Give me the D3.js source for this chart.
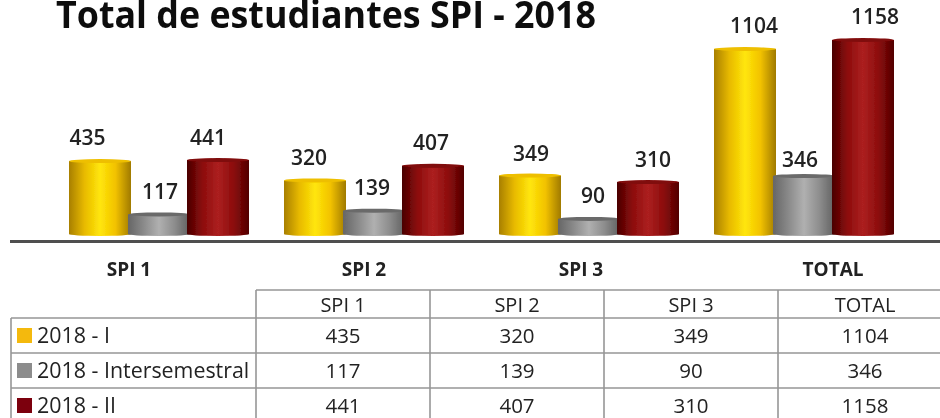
<!DOCTYPE html>
<html><head><meta charset="utf-8">
<script src="https://cdn.jsdelivr.net/npm/d3@7"></script>
<style>
html,body{margin:0;padding:0;background:#fff}
svg{display:block}
text{font-family:"Open Sans","Noto Sans",sans-serif;fill:#222}
</style></head><body><svg id="c" width="940" height="418"></svg>
<script>
const titleText = "Total de estudiantes SPI - 2018";
const categories = ["SPI 1","SPI 2","SPI 3","TOTAL"];
const seriesNames = ["2018 - I","2018 - Intersemestral","2018 - II"];
const periodI = [435,320,349,1104];
const periodInter = [117,139,90,346];
const periodII = [441,407,310,1158];
const seriesValues = [periodI,periodInter,periodII];

const svg = d3.select("#c");
const defs = svg.append("defs");
const palettes = [
  {id:"gY",stops:["#a87f00","#e8ba00","#ffe60a","#f2c200","#a07a00"],swatch:"#f4b90c",top:"#eebf00"},
  {id:"gG",stops:["#666","#8a8a8a","#b0b0b0","#8d8d8d","#5f5f5f"],swatch:"#8c8c8c",top:"#6a6a6a"},
  {id:"gR",stops:["#4a0000","#8c0c0c","#ac2020","#8c0c0c","#520000"],swatch:"#7c0608",top:"#800808"}
];
palettes.forEach(p=>{
  const g = defs.append("linearGradient").attr("id",p.id);
  p.stops.forEach((c,i)=>g.append("stop").attr("offset",i/(p.stops.length-1)).attr("stop-color",c));
});
defs.append("filter").attr("id","soft").append("feGaussianBlur").attr("stdDeviation",0.5);

const x0 = d3.scaleBand().domain(categories).range([51.5,911.5]);
const x1 = d3.scaleBand().domain(d3.range(3)).range([-88.5,88.5]);
const y = d3.scaleLinear().domain([0,1158]).range([234,40]);
const barW = 62, ry = 2;

const root = svg.append("g").attr("filter","url(#soft)");

root.append("text").attr("x",56).attr("y",28).attr("font-size",38).attr("font-weight",700)
  .attr("textLength",540).attr("lengthAdjust","spacingAndGlyphs")
  .style("fill","#111").text(titleText);

const cyl = root.append("g");
const cx=(i,s)=>x0(categories[i])+x0.bandwidth()/2+x1(s)+x1.bandwidth()/2;
seriesValues.forEach((vals,s)=>{
  const p = palettes[s];
  const g = cyl.append("g");
  g.selectAll("path").data(vals).join("path")
    .attr("fill",`url(#${p.id})`)
    .attr("d",(v,i)=>{
      const l = cx(i,s)-barW/2, t=y(v), b=y(0);
      return `M${l},${t}L${l},${b}A${barW/2},${ry} 0 0 0 ${l+barW},${b}L${l+barW},${t}Z`;
    });
  g.selectAll("ellipse").data(vals).join("ellipse")
    .attr("cx",(v,i)=>cx(i,s))
    .attr("cy",v=>y(v)).attr("rx",barW/2).attr("ry",ry).attr("fill",p.top);
});

// value labels: manual label nudges as in the source picture
const nudgeX = [[-12.5,-6,1,9],[1,-2,4,-4],[-10,-2,5,12]];
const nudgeY = [[-16,-15,-15,-16],[-15,-16,-16,-9],[-15,-16,-15,-16]];
seriesValues.forEach((vals,s)=>{
  root.append("g").selectAll("text").data(vals).join("text")
    .attr("text-anchor","middle").attr("font-size",21).attr("font-weight",600)
    .attr("x",(v,i)=>cx(i,s)+nudgeX[s][i])
    .attr("y",(v,i)=>y(v)+nudgeY[s][i]).text(v=>v);
});

// baseline
root.append("line").attr("x1",10).attr("x2",940).attr("y1",241.5).attr("y2",241.5)
  .attr("stroke","#4f4f4f").attr("stroke-width",3);

// category labels
const catShift = [-30,-10,-8,29];
root.append("g").selectAll("text").data(categories).join("text")
  .attr("text-anchor","middle").attr("font-size",19).attr("font-weight",700)
  .attr("x",(d,i)=>x0(d)+x0.bandwidth()/2+catShift[i]).attr("y",276).text(d=>d);

// data table
const colX = d3.scaleBand().domain(categories).range([256,952]);
const rowY = d3.scaleBand().domain(seriesNames).range([318,423]);
const T = root.append("g");
const gridColor = "#969696";
const hLine=(a,b,yy)=>T.append("line").attr("x1",a).attr("x2",b).attr("y1",yy).attr("y2",yy).attr("stroke",gridColor).attr("stroke-width",1.6);
const vLine=(xx,a,b)=>T.append("line").attr("x1",xx).attr("x2",xx).attr("y1",a).attr("y2",b).attr("stroke",gridColor).attr("stroke-width",1.6);
hLine(256,940,290);
hLine(11,940,rowY.range()[0]);
seriesNames.forEach(n=>hLine(11,940,rowY(n)+rowY.bandwidth()));
vLine(11,318,418);
categories.forEach(c=>vLine(colX(c),290,418));

const colCenter=(c)=>colX(c)+colX.bandwidth()/2;
T.append("g").selectAll("text").data(categories).join("text")
  .attr("text-anchor","middle").attr("font-size",20).attr("x",colCenter).attr("y",312).text(d=>d);
seriesNames.forEach((n,s)=>{
  const base = rowY(n)+rowY.bandwidth()/2+7.5;
  T.append("rect").attr("x",17).attr("y",base-15).attr("width",15).attr("height",15).attr("fill",palettes[s].swatch);
  T.append("text").attr("x",37).attr("y",base).attr("font-size",21.4).text(n);
  T.append("g").selectAll("text").data(seriesValues[s]).join("text")
    .attr("text-anchor","middle").attr("font-size",20.5)
    .attr("x",(v,i)=>colCenter(categories[i])).attr("y",base).text(v=>v);
});
</script></body></html>
